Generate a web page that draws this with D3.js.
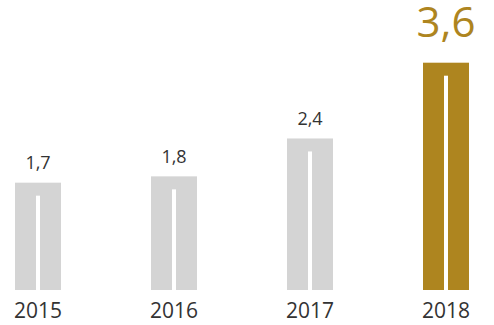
<!DOCTYPE html>
<html>
<head>
<meta charset="utf-8">
<script src="https://cdn.jsdelivr.net/npm/d3@7"></script>
<style>
  html, body { margin: 0; padding: 0; background: #fff; }
  svg { display: block; }
</style>
</head>
<body>
<svg id="chart"></svg>
<script>
// data
var years = ["2015", "2016", "2017", "2018"];
var values = [1.7, 1.8, 2.4, 3.6];
var valueLabels = ["1,7", "1,8", "2,4", "3,6"];
var highlight = "2018";

var W = 494, H = 325;
var barW = 46, gapW = 4, gapTop = 13;
var grey = "#d4d4d4", gold = "#ae851f", textCol = "#333333";

var svg = d3.select("#chart").attr("width", W).attr("height", H);

var x = d3.scalePoint().domain(years).range([38, 446]);
var y = d3.scaleLinear().domain([0, 3.6]).range([290, 62.7]);

var rows = years.map(function(yr, i){
    return { year: yr, value: values[i], label: valueLabels[i], hi: yr === highlight };
});

var g = svg.append("g");

// bars
g.selectAll(".bar")
    .data(rows)
    .enter()
    .append("rect").classed("bar", true)
        .attr("x", function(d){ return x(d.year) - barW/2; })
        .attr("y", function(d){ return y(d.value); })
        .attr("width", barW)
        .attr("height", function(d){ return y(0) - y(d.value); })
        .attr("fill", function(d){ return d.hi ? gold : grey; });

// white slit in the middle of each bar
g.selectAll(".slit")
    .data(rows)
    .enter()
    .append("rect").classed("slit", true)
        .attr("x", function(d){ return x(d.year) - gapW/2; })
        .attr("y", function(d){ return y(d.value) + gapTop; })
        .attr("width", gapW)
        .attr("height", function(d){ return y(0) - y(d.value) - gapTop; })
        .attr("fill", "#fff");

// value labels
g.selectAll(".val")
    .data(rows)
    .enter()
    .append("text").classed("val", true)
        .attr("x", function(d){ return x(d.year); })
        .attr("y", function(d){ return d.hi ? y(d.value) - 25.5 : y(d.value) - 13.5; })
        .attr("text-anchor", "middle")
        .attr("font-family", "'Open Sans', sans-serif")
        .attr("font-size", function(d){ return d.hi ? 42 : 18; })
        .attr("fill", function(d){ return d.hi ? gold : textCol; })
        .text(function(d){ return d.label; });

// year labels
g.selectAll(".year")
    .data(rows)
    .enter()
    .append("text").classed("year", true)
        .attr("x", function(d){ return x(d.year); })
        .attr("y", 318)
        .attr("text-anchor", "middle")
        .attr("font-family", "'Open Sans', sans-serif")
        .attr("font-size", 21)
        .attr("fill", textCol)
        .text(function(d){ return d.year; });
</script>
</body>
</html>
